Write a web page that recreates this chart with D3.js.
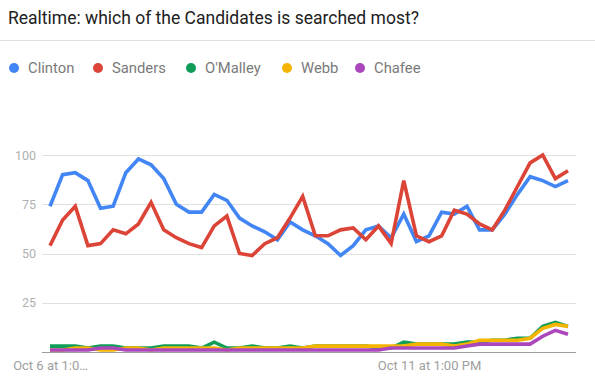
<!DOCTYPE html>
<html>
<head>
<meta charset="utf-8">
<script src="https://cdn.jsdelivr.net/npm/d3@7"></script>
<style>
  body { margin: 0; background: #fff; font-family: Roboto, "Noto Sans", sans-serif; }
</style>
</head>
<body>
<svg id="chart" width="595" height="380"></svg>
<script>
const seriesNames = ['Clinton', 'Sanders', "O'Malley", 'Webb', 'Chafee'];
const seriesColors = ['#4285f4', '#db4437', '#0f9d58', '#f4b400', '#ab47bc'];

const clinton = [74, 90, 91, 87, 73, 74, 91, 98, 95, 88, 75, 71, 71, 80, 77, 68, 64, 61, 57, 66, 62,
  59, 55, 49, 54, 62, 64, 58, 70, 56, 59, 71, 70, 74, 62, 62, 70, 80, 89, 87, 84, 87];
const sanders = [54, 67, 74, 54, 55, 62, 60, 65, 76, 62, 58, 55, 53, 64, 69, 50, 49, 55, 58, 68, 79,
  59, 59, 62, 63, 57, 64, 55, 87, 59, 56, 59, 72, 70, 65, 62, 72, 84, 96, 100, 88, 92];
const omalley = [3, 3, 3, 2, 3, 3, 2, 2, 2, 3, 3, 3, 2, 5, 2, 2, 3, 2, 2, 3, 2,
  3, 3, 3, 3, 3, 2, 2, 5, 4, 4, 4, 4, 5, 5, 6, 6, 7, 7, 13, 15, 13];
const webb = [1, 1, 2, 2, 1, 1, 2, 2, 1, 2, 2, 2, 2, 2, 1, 2, 2, 2, 2, 2, 2,
  3, 3, 3, 3, 3, 3, 3, 3, 4, 4, 4, 3, 4, 6, 6, 6, 6, 7, 12, 14, 13];
const chafee = [1, 1, 1, 1, 2, 2, 1, 1, 1, 1, 1, 1, 1, 1, 1, 1, 1, 1, 1, 1, 1,
  1, 1, 1, 1, 1, 1, 2, 2, 2, 2, 2, 2, 3, 4, 4, 4, 4, 4, 8, 11, 9];

const yTicks = [25, 50, 75, 100];
const xTickIndex = [0, 30];
const xTickLabels = ['Oct 6 at 1:0…', 'Oct 11 at 1:00 PM'];

const allSeries = [clinton, sanders, omalley, webb, chafee];

const svg = d3.select('#chart');

// title + divider
svg.append('text')
  .attr('x', 8).attr('y', 24)
  .style('font-size', '17.5px').style('fill', '#212121')
  .text('Realtime: which of the Candidates is searched most?');
svg.append('line')
  .attr('x1', 0).attr('x2', 595).attr('y1', 40.5).attr('y2', 40.5)
  .style('stroke', '#e0e0e0').style('stroke-width', 1);

// legend
const legendX = [14, 98, 191, 287, 360];
const legend = svg.append('g').attr('class', 'legend');
seriesNames.forEach((name, i) => {
  legend.append('circle')
    .attr('cx', legendX[i]).attr('cy', 68).attr('r', 5)
    .style('fill', seriesColors[i]);
  legend.append('text')
    .attr('x', legendX[i] + 14).attr('y', 73)
    .style('font-size', '14.8px').style('fill', '#7a7a7a')
    .text(name);
});

// scales
const xScale = d3.scaleLinear().domain([0, clinton.length - 1]).range([50, 568]);
const yScale = d3.scaleLinear().domain([0, 100]).range([352, 155]);
const plotLeft = 42;
const plotRight = 576;

const grid = svg.append('g').attr('class', 'grid');
grid.selectAll('line')
  .data(yTicks)
  .join('line')
  .attr('x1', plotLeft).attr('x2', plotRight)
  .attr('y1', (d) => Math.round(yScale(d)) + 0.5)
  .attr('y2', (d) => Math.round(yScale(d)) + 0.5)
  .style('stroke', '#e0e0e0');

const yAxis = d3.axisLeft(yScale).tickValues(yTicks).tickSize(0).tickPadding(0);
svg.append('g')
  .attr('transform', 'translate(36,0)')
  .call(yAxis)
  .call((g) => g.select('.domain').remove())
  .selectAll('text')
  .style('font-family', 'Roboto, sans-serif')
  .style('font-size', '12.5px')
  .style('fill', '#b0b0b0');

// lines
const line = d3.line()
  .x((d, i) => xScale(i))
  .y((d) => yScale(d));
svg.append('g').attr('class', 'lines')
  .selectAll('path')
  .data(allSeries)
  .join('path')
  .attr('d', line)
  .style('fill', 'none')
  .style('stroke', (d, i) => seriesColors[i])
  .style('stroke-width', 3.6);

// baseline
svg.append('line')
  .attr('x1', plotLeft).attr('x2', plotRight)
  .attr('y1', 352.5).attr('y2', 352.5)
  .style('stroke', '#9e9e9e');

const xAxis = d3.axisBottom(xScale)
  .tickValues(xTickIndex)
  .tickFormat((d, i) => xTickLabels[i])
  .tickSize(0).tickPadding(0);
svg.append('g')
  .attr('transform', 'translate(0,361)')
  .call(xAxis)
  .call((g) => g.select('.domain').remove())
  .selectAll('text')
  .style('font-family', 'Roboto, sans-serif')
  .style('font-size', '13px')
  .style('fill', '#9e9e9e');
</script>
</body>
</html>
